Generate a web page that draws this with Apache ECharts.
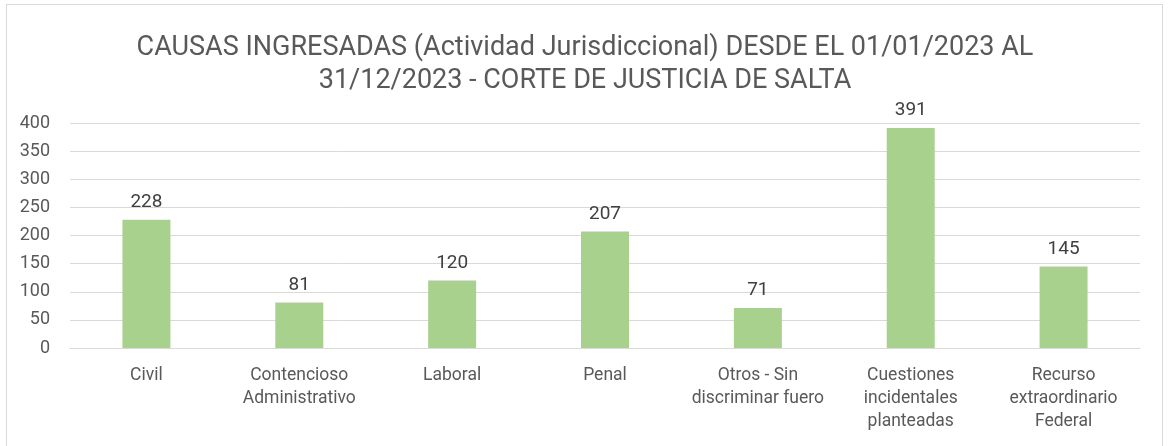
<!DOCTYPE html>
<html lang="es">
<head>
  <meta charset="UTF-8">
  <title>Causas ingresadas 2023</title>
  <script src="https://cdn.jsdelivr.net/npm/echarts@6/dist/echarts.min.js"></script>
  <style>
    html, body {
      margin: 0;
      padding: 0;
      background: #fff;
      overflow: hidden;
    }

    #frame {
      position: absolute;
      left: 6px;
      top: 4px;
      width: 1155px;
      height: 470px;
      border: 1px solid #d9d9d9;
    }

    #main {
      position: absolute;
      left: 0;
      top: 0;
      width: 1170px;
      height: 446px;
    }
  </style>
</head>
<body>
  <div id="frame"></div>
  <div id="main"></div>

  <script type="text/javascript">
    var categories = [
      'Civil',
      'Contencioso\nAdministrativo',
      'Laboral',
      'Penal',
      'Otros - Sin\ndiscriminar fuero',
      'Cuestiones\nincidentales\nplanteadas',
      'Recurso\nextraordinario\nFederal'
    ];
    var causas = [228, 81, 120, 207, 71, 391, 145];
    var yTicks = [0, 50, 100, 150, 200, 250, 300, 350, 400];

    var fontName = 'Roboto, "Liberation Sans", sans-serif';

    var myChart = echarts.init(document.getElementById('main'));

    var option = {
      animation: false,
      textStyle: { fontFamily: fontName },
      title: {
        text: 'CAUSAS INGRESADAS (Actividad Jurisdiccional) DESDE EL 01/01/2023 AL\n31/12/2023 - CORTE DE JUSTICIA DE SALTA',
        left: 'center',
        top: 27,
        textStyle: {
          fontFamily: fontName,
          fontSize: 27,
          fontWeight: 'normal',
          color: '#595959',
          lineHeight: 33,
          align: 'center'
        }
      },
      grid: {
        left: 70,
        right: 30,
        top: 123,
        bottom: 98,
        containLabel: false
      },
      xAxis: {
        type: 'category',
        data: categories,
        axisLine: { lineStyle: { color: '#d9d9d9' } },
        axisTick: { show: false },
        axisLabel: {
          color: '#595959',
          fontSize: 17.5,
          lineHeight: 23,
          margin: 16,
          interval: 0
        }
      },
      yAxis: {
        type: 'value',
        min: yTicks[0],
        max: yTicks[yTicks.length - 1],
        interval: 50,
        axisLine: { show: false },
        axisTick: { show: false },
        splitLine: { lineStyle: { color: '#d9d9d9' } },
        axisLabel: {
          color: '#595959',
          fontSize: 18,
          margin: 20
        }
      },
      series: [
        {
          name: 'Causas',
          type: 'bar',
          data: causas,
          barWidth: 48,
          itemStyle: { color: '#a9d18e' },
          label: {
            show: true,
            position: 'top',
            distance: 8,
            color: '#404040',
            fontSize: 19
          }
        }
      ]
    };

    myChart.setOption(option);
  </script>
</body>
</html>
